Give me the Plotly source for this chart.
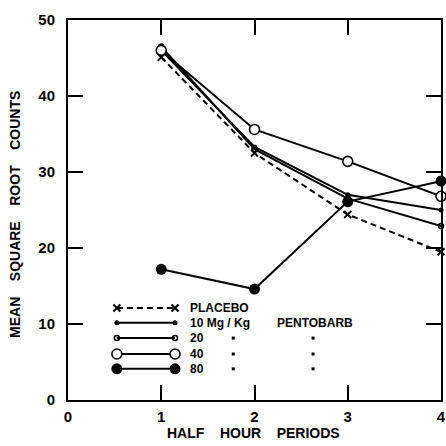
import plotly.graph_objects as go

periods = [1, 2, 3, 4]
placebo = [45.1, 32.5, 24.4, 19.5]
mg10 = [46.0, 33.3, 27.0, 25.0]
mg20 = [46.5, 33.0, 26.5, 22.9]
mg40 = [46.0, 35.6, 31.4, 26.8]
mg80 = [17.2, 14.6, 26.1, 28.8]

x_ticks = [0, 1, 2, 3, 4]
y_ticks = [0, 10, 20, 30, 40, 50]
legend_labels = ["PLACEBO", "10 Mg / Kg", "20", "40", "80"]

FONT = "Liberation Sans"
BLACK = "black"

fig = go.Figure()

series = [
    (placebo, dict(symbol="x-thin", size=7, color=BLACK, line=dict(width=2, color=BLACK)), "6px,4px"),
    (mg10, dict(symbol="circle", size=5, color=BLACK), "solid"),
    (mg20, dict(symbol="circle-open", size=5, color=BLACK, line=dict(width=1.5, color=BLACK)), "solid"),
    (mg40, dict(symbol="circle", size=10, color="white", line=dict(width=1.6, color=BLACK)), "solid"),
    (mg80, dict(symbol="circle", size=11, color=BLACK), "solid"),
]

for vals, mk, dash in series:
    fig.add_trace(go.Scatter(
        x=periods, y=vals, mode="lines+markers",
        line=dict(color=BLACK, width=2, dash=dash),
        marker=mk, cliponaxis=False, showlegend=False, hoverinfo="skip",
    ))

# custom in-plot legend on an overlay axis (0..1 in both directions)
row_y = [0.242, 0.203, 0.163, 0.121, 0.082]
x0, x1 = 0.131, 0.287
for (vals, mk, dash), yy, lab in zip(series, row_y, legend_labels):
    fig.add_trace(go.Scatter(
        x=[x0, x1], y=[yy, yy], mode="lines+markers",
        line=dict(color=BLACK, width=2, dash=dash),
        marker=mk, xaxis="x2", yaxis="y2", cliponaxis=False,
        showlegend=False, hoverinfo="skip",
    ))
    fig.add_annotation(x=0.322, y=yy, xref="x2", yref="y2", text=lab,
                       showarrow=False, xanchor="left", yanchor="middle",
                       font=dict(family=FONT, size=12, color=BLACK, weight="bold"))
fig.add_annotation(x=0.555, y=row_y[1], xref="x2", yref="y2", text="PENTOBARB",
                   showarrow=False, xanchor="left", yanchor="middle",
                   font=dict(family=FONT, size=12, color=BLACK, weight="bold"))
# ditto marks
fig.add_trace(go.Scatter(
    x=[0.443, 0.443, 0.443, 0.657, 0.657, 0.657],
    y=row_y[2:] + row_y[2:], mode="markers",
    marker=dict(symbol="square", size=3, color=BLACK),
    xaxis="x2", yaxis="y2", showlegend=False, hoverinfo="skip",
))

axis_common = dict(
    showline=True, linecolor=BLACK, linewidth=2, mirror="ticks",
    ticks="inside", ticklen=15, tickwidth=2, tickcolor=BLACK,
    showgrid=False, zeroline=False, automargin=False,
    tickfont=dict(family=FONT, size=15, color=BLACK, weight="bold"),
)

fig.update_layout(
    width=446, height=446,
    margin=dict(l=68, r=5, t=20, b=46),
    paper_bgcolor="white", plot_bgcolor="white",
    hovermode=False,
    xaxis=dict(range=[0, 4], tickvals=x_ticks, ticktext=[str(v) for v in x_ticks],
               ticklabelstandoff=2, **axis_common),
    yaxis=dict(range=[0, 50], tickvals=y_ticks, ticktext=[str(v) for v in y_ticks],
               ticklabelstandoff=8, **axis_common),
    xaxis2=dict(overlaying="x", range=[0, 1], visible=False),
    yaxis2=dict(overlaying="y", range=[0, 1], visible=False),
)

fig.add_annotation(x=0.496, y=-0.087, xref="paper", yref="paper",
                   text="HALF&nbsp;&nbsp;&nbsp;&nbsp;HOUR&nbsp;&nbsp;&nbsp;&nbsp;PERIODS",
                   showarrow=False, xanchor="center", yanchor="middle",
                   font=dict(family=FONT, size=14, color=BLACK, weight="bold"))
fig.add_annotation(x=-0.142, y=0.487, xref="paper", yref="paper", textangle=-90,
                   text="MEAN&nbsp;&nbsp;&nbsp;&nbsp;SQUARE&nbsp;&nbsp;&nbsp;&nbsp;ROOT&nbsp;&nbsp;&nbsp;&nbsp;COUNTS",
                   showarrow=False, xanchor="center", yanchor="middle",
                   font=dict(family=FONT, size=14, color=BLACK, weight="bold"))

# remove the default 8px page margin so the 446x446 figure fills the window
fig.write_html("out.html", config={"displayModeBar": False},
               post_script="document.body.style.margin='0';document.body.style.overflow='hidden';")
